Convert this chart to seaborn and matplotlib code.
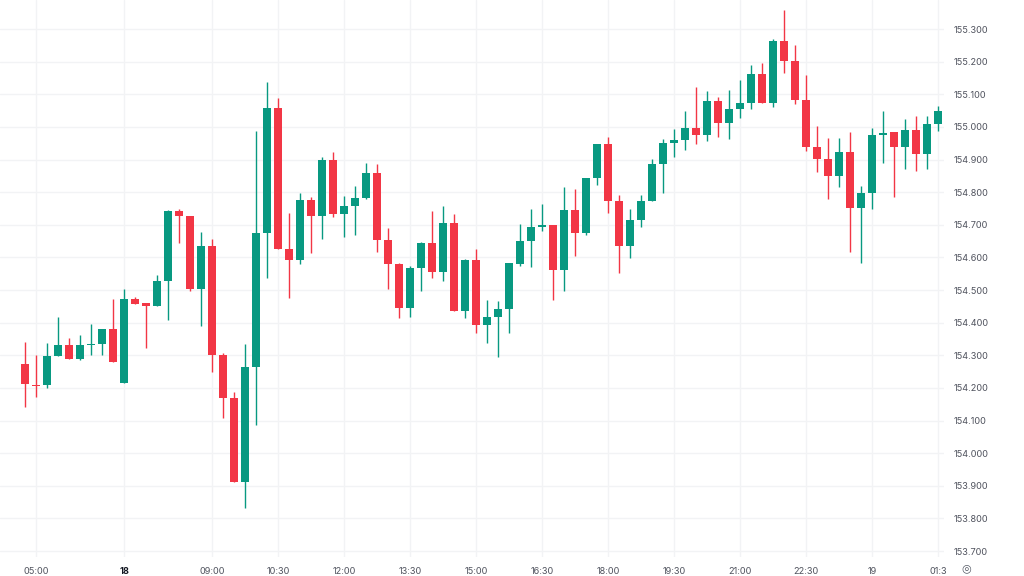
import numpy as np
import pandas as pd
import matplotlib
matplotlib.use("Agg")
import matplotlib.pyplot as plt
import seaborn as sns

# ---- data (15-minute candles) ----
open_ = [154.273, 154.210, 154.208, 154.298, 154.331, 154.289, 154.331, 154.334, 154.380, 154.215,
         154.472, 154.459, 154.450, 154.527, 154.742, 154.727, 154.502, 154.635, 154.301, 154.168,
         153.911, 154.265, 154.674, 155.057, 154.625, 154.592, 154.776, 154.727, 154.898, 154.733,
         154.759, 154.781, 154.858, 154.653, 154.580, 154.444, 154.568, 154.643, 154.554, 154.705,
         154.436, 154.592, 154.393, 154.418, 154.441, 154.580, 154.650, 154.693, 154.699, 154.563,
         154.745, 154.676, 154.842, 154.948, 154.774, 154.635, 154.715, 154.774, 154.886, 154.952,
         154.960, 154.997, 154.974, 155.078, 155.013, 155.054, 155.072, 155.162, 155.074, 155.264,
         155.202, 155.082, 154.937, 154.901, 154.850, 154.924, 154.752, 154.796, 154.975, 154.983,
         154.937, 154.990, 154.917, 155.009]
high = [154.342, 154.302, 154.337, 154.419, 154.354, 154.362, 154.395, 154.380, 154.472, 154.503,
        154.479, 154.459, 154.546, 154.745, 154.747, 154.727, 154.677, 154.658, 154.308, 154.188,
        154.334, 154.988, 155.139, 155.089, 154.735, 154.798, 154.786, 154.907, 154.922, 154.788,
        154.820, 154.888, 154.886, 154.689, 154.582, 154.574, 154.646, 154.742, 154.757, 154.733,
        154.594, 154.626, 154.471, 154.467, 154.582, 154.702, 154.748, 154.764, 154.699, 154.817,
        154.809, 154.842, 154.948, 154.968, 154.791, 154.747, 154.791, 154.901, 154.964, 154.993,
        155.049, 155.123, 155.111, 155.093, 155.113, 155.144, 155.190, 155.197, 155.268, 155.358,
        155.251, 155.159, 155.003, 154.965, 154.965, 154.983, 154.820, 154.998, 155.050, 154.983,
        155.024, 155.033, 155.034, 155.065]
low = [154.142, 154.171, 154.199, 154.298, 154.289, 154.286, 154.302, 154.302, 154.280, 154.215,
       154.458, 154.324, 154.450, 154.409, 154.643, 154.497, 154.390, 154.250, 154.107, 153.911,
       153.831, 154.086, 154.536, 154.625, 154.475, 154.580, 154.613, 154.656, 154.725, 154.663,
       154.669, 154.780, 154.616, 154.503, 154.413, 154.418, 154.498, 154.536, 154.527, 154.436,
       154.413, 154.367, 154.339, 154.294, 154.367, 154.575, 154.571, 154.681, 154.469, 154.498,
       154.604, 154.669, 154.823, 154.735, 154.551, 154.597, 154.694, 154.774, 154.796, 154.909,
       154.929, 154.948, 154.958, 154.970, 154.963, 155.026, 155.054, 155.074, 155.060, 155.166,
       155.070, 154.926, 154.863, 154.779, 154.815, 154.616, 154.582, 154.750, 154.890, 154.784,
       154.870, 154.866, 154.870, 154.987]
close = [154.212, 154.205, 154.298, 154.331, 154.289, 154.331, 154.335, 154.380, 154.280, 154.472,
         154.458, 154.452, 154.527, 154.742, 154.727, 154.502, 154.635, 154.301, 154.168, 153.911,
         154.265, 154.674, 155.057, 154.625, 154.592, 154.776, 154.727, 154.898, 154.733, 154.759,
         154.783, 154.858, 154.653, 154.580, 154.444, 154.568, 154.643, 154.554, 154.705, 154.436,
         154.592, 154.393, 154.416, 154.441, 154.582, 154.650, 154.693, 154.699, 154.563, 154.745,
         154.676, 154.842, 154.948, 154.774, 154.635, 154.715, 154.774, 154.886, 154.952, 154.960,
         154.997, 154.974, 155.078, 155.013, 155.054, 155.072, 155.162, 155.074, 155.264, 155.202,
         155.082, 154.937, 154.901, 154.850, 154.924, 154.752, 154.796, 154.975, 154.982, 154.937,
         154.990, 154.917, 155.009, 155.050]

time_tick_index = [1, 9, 17, 23, 29, 35, 41, 47, 53, 59, 65, 71, 77, 83]
time_tick_labels = ["05:00", "18", "09:00", "10:30", "12:00", "13:30", "15:00",
                    "16:30", "18:00", "19:30", "21:00", "22:30", "19", "01:3"]
price_ticks = [153.7, 153.8, 153.9, 154.0, 154.1, 154.2, 154.3, 154.4, 154.5,
               154.6, 154.7, 154.8, 154.9, 155.0, 155.1, 155.2, 155.3]

# ---- styling ----
sns.set_theme(style="white")
plt.rcParams["font.family"] = ["Inter", "DejaVu Sans"]

UP = "#089981"
DOWN = "#F23645"
GRID = "#f2f3f5"
TXT = "#50535e"

df = pd.DataFrame({"open": open_, "high": high, "low": low, "close": close})
df["i"] = np.arange(len(df))
df["up"] = df["close"] >= df["open"]
df["color"] = np.where(df["up"], UP, DOWN)
df["bottom"] = df[["open", "close"]].min(axis=1)
df["height"] = (df["close"] - df["open"]).abs().clip(lower=0.003)

fig = plt.figure(figsize=(10.24, 5.76), dpi=100)
ax = fig.add_axes([0, 19 / 576, 944 / 1024, 557 / 576])

# wicks and bodies
ax.vlines(df["i"], df["low"], df["high"], colors=df["color"], linewidth=1.0, zorder=2)
ax.bar(df["i"], df["height"], bottom=df["bottom"], width=0.74,
       color=df["color"], linewidth=0, zorder=3)

ax.set_xlim(-25 / 11, 83 + 6 / 11)
ax.set_ylim(153.682, 155.389)

ax.set_xticks(time_tick_index)
ax.set_xticklabels(time_tick_labels)
ax.set_yticks(price_ticks)
ax.set_yticklabels([f"{p:.3f}" for p in price_ticks])
ax.yaxis.tick_right()

ax.grid(True, color=GRID, linewidth=1, zorder=0)
for s in ax.spines.values():
    s.set_visible(False)

ax.tick_params(axis="x", length=0, pad=7, labelsize=6.6, labelcolor=TXT)
ax.tick_params(axis="y", length=0, pad=7, labelsize=6.6, labelcolor=TXT)

for lbl in ax.get_xticklabels():
    if lbl.get_text() == "18":
        lbl.set_fontweight("bold")
        lbl.set_color("#131722")

fig.text(966 / 1024, 1 - 568 / 576, "\u25ce", ha="center", va="center",
         fontsize=8, color="#555a66", family="DejaVu Sans")

fig.savefig("out.png", dpi=100, facecolor="white")
